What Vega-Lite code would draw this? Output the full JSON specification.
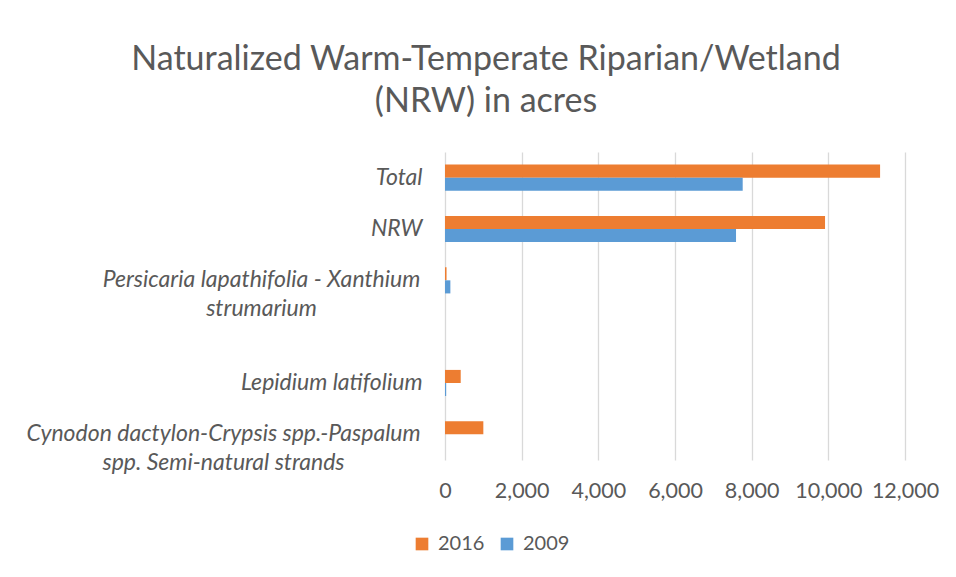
{
  "$schema": "https://vega.github.io/schema/vega-lite/v6.json",
  "width": 460,
  "height": 308,
  "autosize": {"type": "none"},
  "padding": {"left": 445, "top": 152, "right": 51, "bottom": 117},
  "background": "white",
  "title": {
    "text": ["Naturalized Warm-Temperate Riparian/Wetland", "(NRW) in acres"],
    "font": "Lato",
    "fontSize": 34,
    "fontWeight": "normal",
    "color": "#595959",
    "anchor": "middle",
    "frame": "group",
    "dx": -189,
    "offset": 33,
    "lineHeight": 42
  },
  "data": {
    "values": [
      {"category": "Total", "year": "2016", "acres": 11350},
      {"category": "Total", "year": "2009", "acres": 7766},
      {"category": "NRW", "year": "2016", "acres": 9914},
      {"category": "NRW", "year": "2009", "acres": 7592},
      {"category": "Persicaria lapathifolia - Xanthium strumarium", "year": "2016", "acres": 40},
      {"category": "Persicaria lapathifolia - Xanthium strumarium", "year": "2009", "acres": 140},
      {"category": "Lepidium latifolium", "year": "2016", "acres": 410},
      {"category": "Lepidium latifolium", "year": "2009", "acres": 30},
      {"category": "Cynodon dactylon-Crypsis spp.-Paspalum spp. Semi-natural strands", "year": "2016", "acres": 1000},
      {"category": "Cynodon dactylon-Crypsis spp.-Paspalum spp. Semi-natural strands", "year": "2009", "acres": 0}
    ]
  },
  "mark": {"type": "bar"},
  "encoding": {
    "y": {
      "field": "category",
      "type": "nominal",
      "scale": {
        "domain": ["Total", "NRW", "Persicaria lapathifolia - Xanthium strumarium", " ", "Lepidium latifolium", "Cynodon dactylon-Crypsis spp.-Paspalum spp. Semi-natural strands"],
        "paddingInner": 0.49,
        "paddingOuter": 0.245
      },
      "axis": {
        "title": null,
        "domain": false,
        "ticks": false,
        "labelFont": "Lato",
        "labelFontStyle": "italic",
        "labelFontSize": 23,
        "labelColor": "#595959",
        "labelLimit": 500,
        "labelLineHeight": 29,
        "labelExpr": "datum.value == 'Persicaria lapathifolia - Xanthium strumarium' ? ['Persicaria lapathifolia - Xanthium', 'strumarium'] : datum.value == 'Cynodon dactylon-Crypsis spp.-Paspalum spp. Semi-natural strands' ? ['Cynodon dactylon-Crypsis spp.-Paspalum', 'spp. Semi-natural strands'] : datum.value",
        "labelAlign": {"condition": {"test": "indexof(datum.value, ' - ') >= 0 || indexof(datum.value, 'Cynodon') >= 0", "value": "center"}, "value": "right"},
        "labelPadding": {"condition": [{"test": "indexof(datum.value, 'Persicaria') >= 0", "value": 184}, {"test": "indexof(datum.value, 'Cynodon') >= 0", "value": 222}], "value": 23}
      }
    },
    "yOffset": {"field": "year", "type": "nominal", "sort": ["2016", "2009"]},
    "x": {
      "field": "acres",
      "type": "quantitative",
      "scale": {"domain": [0, 12000], "nice": false},
      "axis": {
        "title": null,
        "values": [0, 2000, 4000, 6000, 8000, 10000, 12000],
        "format": ",d",
        "domain": false,
        "ticks": false,
        "grid": true,
        "gridColor": "#D9D9D9",
        "gridWidth": 1.3,
        "labelFont": "Lato",
        "labelFontSize": 21.5,
        "labelColor": "#595959",
        "labelPadding": 20,
        "labelFlush": false,
        "labelOverlap": false
      }
    },
    "color": {
      "field": "year",
      "type": "nominal",
      "sort": ["2016", "2009"],
      "scale": {"domain": ["2016", "2009"], "range": ["#ED7D31", "#5B9BD5"]},
      "legend": {
        "title": null,
        "orient": "none",
        "direction": "horizontal",
        "legendX": -33,
        "legendY": 382,
        "symbolType": "square",
        "symbolSize": 160,
        "symbolStrokeWidth": 0,
        "labelFont": "Lato",
        "labelFontSize": 20,
        "labelColor": "#595959",
        "columnPadding": 12,
        "labelOffset": 6
      }
    }
  },
  "config": {"view": {"stroke": null}}
}
